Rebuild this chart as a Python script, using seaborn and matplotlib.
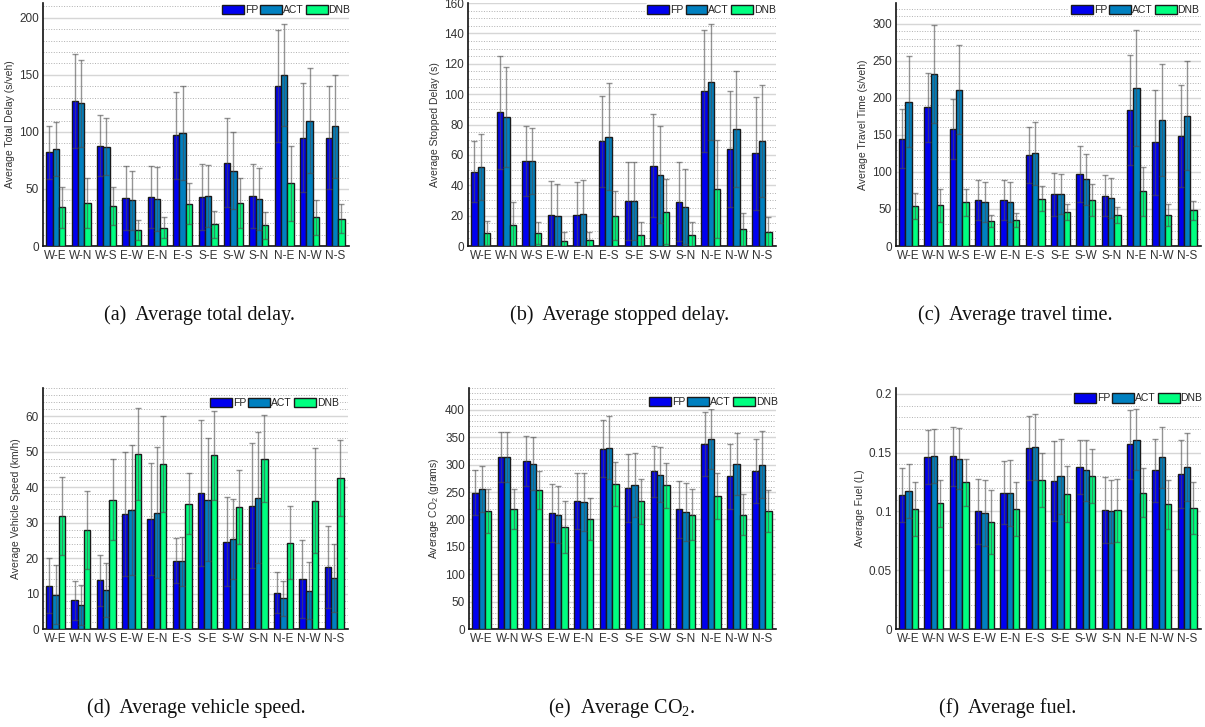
import numpy as np
import pandas as pd
import matplotlib
matplotlib.use("Agg")
import matplotlib.pyplot as plt
from matplotlib.patches import Patch
from matplotlib.ticker import MultipleLocator, FuncFormatter
import seaborn as sns

sns.set_theme(style="white")
plt.rcParams['font.family'] = ['Liberation Sans', 'DejaVu Sans']

routes = ["W-E", "W-N", "W-S", "E-W", "E-N", "E-S", "S-E", "S-W", "S-N", "N-E", "N-W", "N-S"]
methods = ["FP", "ACT", "DNB"]
colors = ["#0000f0", "#0080c0", "#00ff80"]

# (a) total delay
delay_fp = [82, 127, 88, 42, 43, 97, 43, 73, 44, 140, 95, 95]
delay_act = [85, 125, 87, 40, 41, 99, 44, 66, 41, 150, 110, 105]
delay_dnb = [34, 38, 35, 14, 16, 37, 19, 38, 18, 55, 25, 24]
delay_fp_err = [23, 41, 27, 28, 27, 38, 29, 39, 28, 49, 48, 45]
delay_act_err = [24, 38, 25, 26, 28, 41, 27, 34, 27, 45, 46, 45]
delay_dnb_err = [18, 22, 17, 9, 9, 18, 12, 22, 12, 33, 15, 13]

# (b) stopped delay
stop_fp = [49, 88, 56, 20.5, 20.5, 69, 29.5, 53, 29, 102, 64, 61]
stop_act = [52, 85, 56, 19.5, 21, 72, 29.5, 47, 26, 108, 77, 69]
stop_dnb = [8.5, 14, 8.5, 3.5, 4, 20, 7, 22.5, 7, 37.5, 11, 9]
stop_fp_err = [20, 37, 23, 22, 21.5, 30, 25.5, 34, 26, 40, 38, 37]
stop_act_err = [22, 33, 22, 21, 22.5, 35, 25.5, 32, 25, 38, 38, 37]
stop_dnb_err = [8, 15, 7, 5.5, 5, 16, 9, 21.5, 9, 32, 11, 10]

# (c) travel time
travel_fp = [145, 187, 158, 62, 62, 123, 70, 97, 68, 184, 140, 148]
travel_act = [195, 232, 211, 59, 60, 125, 70, 90, 65, 213, 170, 176]
travel_dnb = [54, 55, 59, 34, 35, 64, 46, 62, 42, 74, 42, 48]
travel_fp_err = [40, 46, 40, 27, 27, 38, 29, 38, 28, 74, 71, 69]
travel_act_err = [61, 66, 60, 27, 27, 42, 27, 34, 27, 78, 75, 74]
travel_dnb_err = [17, 22, 18, 8, 10, 17, 11, 22, 11, 33, 15, 13]

# (d) vehicle speed
speed_fp = [12.2, 8.1, 13.7, 32.5, 31.0, 19.3, 38.4, 24.6, 34.8, 10.2, 14.0, 17.5]
speed_act = [9.7, 6.8, 10.9, 33.6, 32.8, 19.1, 36.5, 25.4, 37.0, 8.7, 10.8, 14.4]
speed_dnb = [32.0, 28.0, 36.5, 49.3, 46.5, 35.4, 49.0, 34.5, 48.0, 24.4, 36.2, 42.6]
speed_fp_err = [7.8, 5.5, 7.3, 17.5, 15.8, 6.3, 20.6, 12.6, 17.7, 5.8, 11.0, 11.5]
speed_act_err = [8.3, 5.7, 7.6, 18.4, 18.5, 6.9, 17.3, 11.2, 18.5, 4.9, 8.0, 9.6]
speed_dnb_err = [11.0, 11.0, 11.5, 13.0, 13.5, 8.6, 12.5, 10.5, 12.3, 10.2, 14.8, 10.7]

# (e) CO2
co2_fp = [249, 314, 307, 212, 234, 329, 257, 288, 219, 338, 279, 288]
co2_act = [255, 314, 302, 209, 232, 331, 263, 282, 214, 347, 301, 300]
co2_dnb = [215, 219, 254, 186, 201, 265, 233, 262, 209, 243, 209, 216]
co2_fp_err = [41, 46, 46, 53, 51, 52, 62, 47, 52, 59, 59, 58]
co2_act_err = [42, 45, 49, 52, 53, 57, 58, 50, 53, 54, 56, 61]
co2_dnb_err = [40, 36, 35, 48, 39, 40, 41, 41, 47, 42, 37, 38]

# (f) fuel
fuel_fp = [0.114, 0.146, 0.147, 0.100, 0.116, 0.154, 0.126, 0.138, 0.101, 0.157, 0.135, 0.132]
fuel_act = [0.117, 0.147, 0.145, 0.099, 0.116, 0.155, 0.130, 0.135, 0.100, 0.161, 0.146, 0.138]
fuel_dnb = [0.102, 0.107, 0.125, 0.091, 0.102, 0.127, 0.115, 0.130, 0.101, 0.116, 0.106, 0.103]
fuel_fp_err = [0.023, 0.023, 0.025, 0.028, 0.027, 0.027, 0.034, 0.023, 0.028, 0.029, 0.027, 0.029]
fuel_act_err = [0.023, 0.023, 0.026, 0.028, 0.028, 0.028, 0.032, 0.026, 0.027, 0.026, 0.026, 0.029]
fuel_dnb_err = [0.023, 0.020, 0.020, 0.027, 0.023, 0.023, 0.024, 0.023, 0.027, 0.021, 0.021, 0.022]

ylabels = ["Average Total Delay (s/veh)", "Average Stopped Delay (s)", "Average Travel Time (s/veh)",
           "Average Vehicle Speed (km/h)", r"Average CO$_\mathregular{2}$ (grams)", "Average Fuel (L)"]
captions = ["(a)  Average total delay.", "(b)  Average stopped delay.", "(c)  Average travel time.",
            "(d)  Average vehicle speed.", r"(e)  Average CO$_\mathregular{2}$.", "(f)  Average fuel."]

panels = [
    (delay_fp, delay_act, delay_dnb, delay_fp_err, delay_act_err, delay_dnb_err),
    (stop_fp, stop_act, stop_dnb, stop_fp_err, stop_act_err, stop_dnb_err),
    (travel_fp, travel_act, travel_dnb, travel_fp_err, travel_act_err, travel_dnb_err),
    (speed_fp, speed_act, speed_dnb, speed_fp_err, speed_act_err, speed_dnb_err),
    (co2_fp, co2_act, co2_dnb, co2_fp_err, co2_act_err, co2_dnb_err),
    (fuel_fp, fuel_act, fuel_dnb, fuel_fp_err, fuel_act_err, fuel_dnb_err),
]
ylims = [213, 160, 328, 68, 440, 0.205]
majors = [50, 20, 50, 10, 50, 0.05]
minors = [10, 5, 10, 2, 10, 0.01]

W, H = 1205, 727
fig = plt.figure(figsize=(W / 100, H / 100), dpi=100)
# axes boxes in pixels: left, right, top, bottom
boxes = [(43, 349, 3, 246), (468, 776, 3, 246), (896, 1201, 3, 246),
         (43, 348, 388, 629), (469, 776, 388, 629), (896, 1201, 388, 629)]
cap_pos = [(200, 315), (620, 315), (1015, 315), (196, 708), (622, 708), (1008, 708)]
leg_anchor = [(1.01, 1.0), (1.005, 1.0), (1.0, 1.0), (0.975, 0.965), (1.01, 0.97), (1.01, 0.985)]

for i, vals in enumerate(panels):
    l, r, t, b = boxes[i]
    ax = fig.add_axes([l / W, 1 - b / H, (r - l) / W, (b - t) / H])
    means = vals[:3]
    errs = vals[3:]
    df = pd.DataFrame({
        "route": np.tile(routes, 3),
        "method": np.repeat(methods, len(routes)),
        "value": np.concatenate(means),
    })
    sns.barplot(data=df, x="route", y="value", hue="method", order=routes, hue_order=methods,
                palette=colors, saturation=1, width=0.75, errorbar=None,
                edgecolor="#1a1a1a", linewidth=1.0, ax=ax, legend=False, zorder=3)
    bar_containers = list(ax.containers)
    for k, cont in enumerate(bar_containers):
        xs = [p.get_x() + p.get_width() / 2 for p in cont.patches]
        ax.errorbar(xs, means[k], yerr=errs[k], fmt="none", ecolor=(0.3, 0.3, 0.3, 0.6),
                    elinewidth=1.0, capsize=2, capthick=1.0, zorder=4)
    ax.set_xlim(-0.5, 11.55)
    ax.set_ylim(0, ylims[i])
    ax.yaxis.set_major_locator(MultipleLocator(majors[i]))
    ax.yaxis.set_minor_locator(MultipleLocator(minors[i]))
    ax.yaxis.set_major_formatter(FuncFormatter(lambda v, p: "%g" % round(v, 4)))
    ax.grid(which="major", axis="y", color="#d6d6d6", linewidth=1.0, linestyle="-", zorder=0)
    ax.grid(which="minor", axis="y", color="#b0b0b0", linewidth=0.7, linestyle=":", zorder=0)
    ax.set_axisbelow(True)
    for s in ["top", "right"]:
        ax.spines[s].set_visible(False)
    for s in ["left", "bottom"]:
        ax.spines[s].set_color("#111111")
        ax.spines[s].set_linewidth(1.2)
    ax.tick_params(axis="y", which="major", direction="in", length=3, width=0.8,
                   labelsize=8.5, labelcolor="#333333", pad=3)
    ax.tick_params(axis="y", which="minor", direction="in", length=1.5, width=0.6)
    ax.tick_params(axis="x", length=0, labelsize=8.5, labelcolor="#333333", pad=3)
    ax.set_xlabel("")
    ax.set_ylabel(ylabels[i], fontsize=7.5, color="#333333", labelpad=3)
    handles = [Patch(facecolor=c, edgecolor="#1a1a1a", linewidth=1.0, label=m)
               for c, m in zip(colors, methods)]
    leg = ax.legend(handles=handles, loc="upper right", bbox_to_anchor=leg_anchor[i], ncol=3,
                    frameon=True, fontsize=7.5, handlelength=2.1, handleheight=1.0,
                    handletextpad=0.1, columnspacing=0.2, borderpad=0.15, borderaxespad=0)
    leg.get_frame().set_facecolor("white")
    leg.get_frame().set_edgecolor("none")
    leg.get_frame().set_alpha(1)
    for txt in leg.get_texts():
        txt.set_color("#222222")
    cx, cy = cap_pos[i]
    fig.text(cx / W, 1 - cy / H, captions[i], ha="center", va="center",
             fontsize=14.5, family=["Liberation Serif", "DejaVu Serif"], color="#111111")

fig.savefig("out.png", dpi=100)
